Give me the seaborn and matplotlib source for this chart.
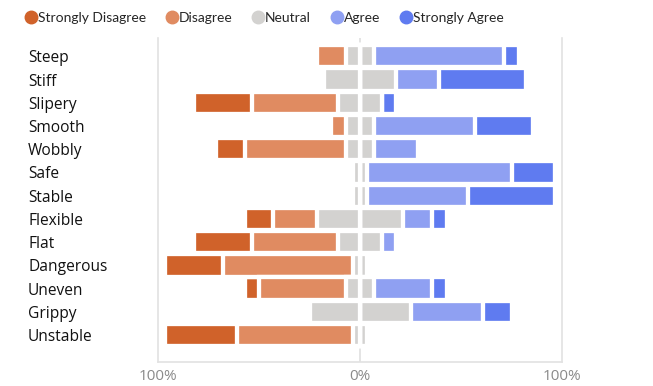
import numpy as np
import pandas as pd
import matplotlib
matplotlib.use("Agg")
import matplotlib.pyplot as plt
import seaborn as sns
from matplotlib.lines import Line2D

# ---- data (counts of 14 respondents) ----
items = ["Steep", "Stiff", "Slipery", "Smooth", "Wobbly", "Safe", "Stable",
         "Flexible", "Flat", "Dangerous", "Uneven", "Grippy", "Unstable"]
strongly_disagree = [0, 0, 4, 0, 2, 0, 0, 2, 4, 4, 1, 0, 5]
disagree          = [2, 0, 6, 1, 7, 0, 0, 3, 6, 9, 6, 0, 8]
neutral           = [2, 5, 3, 2, 2, 1, 1, 6, 3, 1, 2, 7, 1]
agree             = [9, 3, 0, 7, 3, 10, 7, 2, 1, 0, 4, 5, 0]
strongly_agree    = [1, 6, 1, 4, 0, 3, 6, 1, 0, 0, 1, 2, 0]
respondents = 14
categories = ["Strongly Disagree", "Disagree", "Neutral", "Agree", "Strongly Agree"]
colors = ["#d0622a", "#e08b61", "#d3d2d0", "#8fa0f2", "#5f7bf0"]
tick_values = [-100, 0, 100]
tick_labels = ["100%", "0%", "100%"]

sns.set_style("white")
plt.rcParams["font.family"] = ["Open Sans", "DejaVu Sans"]

df = pd.DataFrame({
    "item": items,
    "sd": np.array(strongly_disagree) / respondents * 100,
    "d": np.array(disagree) / respondents * 100,
    "n": np.array(neutral) / respondents * 100,
    "a": np.array(agree) / respondents * 100,
    "sa": np.array(strongly_agree) / respondents * 100,
})
half = df["n"] / 2

layers = [
    (half + df["a"] + df["sa"], colors[4]),
    (half + df["a"], colors[3]),
    (half, colors[2]),
    (-(half + df["d"] + df["sd"]), colors[0]),
    (-(half + df["d"]), colors[1]),
    (-half, colors[2]),
]

fig = plt.figure(figsize=(6.53, 3.86), dpi=100)
ax = fig.add_axes([158 / 653, 24 / 386, 404 / 653, 324 / 386])

ax.axvline(0, color="#e2e2e2", lw=1.3, zorder=0)
for vals, c in layers:
    sns.barplot(x=vals.values, y=df["item"], orient="h", color=c, saturation=1,
                width=0.96, linewidth=3.1, edgecolor="white", errorbar=None, ax=ax)

ax.set_xlim(-100, 100)
ax.set_ylim(len(items) - 1 + 1.16, -0.79)
ax.set_xticks(tick_values)
ax.set_xticklabels(tick_labels, color="#8a8a8a", fontsize=11)
ax.set_xlabel("")
ax.set_ylabel("")
ax.tick_params(axis="both", length=0)
ax.tick_params(axis="x", pad=5)
ax.tick_params(axis="y", pad=130 * 0.72)
for lab in ax.get_yticklabels():
    lab.set_ha("left")
    lab.set_fontsize(11.2)
    lab.set_color("#111111")

for s in ["left", "right", "bottom"]:
    ax.spines[s].set_color("#e2e2e2")
    ax.spines[s].set_linewidth(1.2)
ax.spines["top"].set_visible(False)

handles = [Line2D([], [], marker="o", ls="", markersize=9,
                  markerfacecolor=c, markeredgecolor=c) for c in colors]
fig.legend(handles, categories, loc="center left",
           bbox_to_anchor=(24 / 653, 1 - 18 / 386), ncol=5, frameon=False,
           handletextpad=0.0, columnspacing=1.35, handlelength=1.0,
           borderpad=0, borderaxespad=0,
           prop={"family": ["Lato", "DejaVu Sans"], "size": 10})

fig.savefig("out.png", dpi=100)
